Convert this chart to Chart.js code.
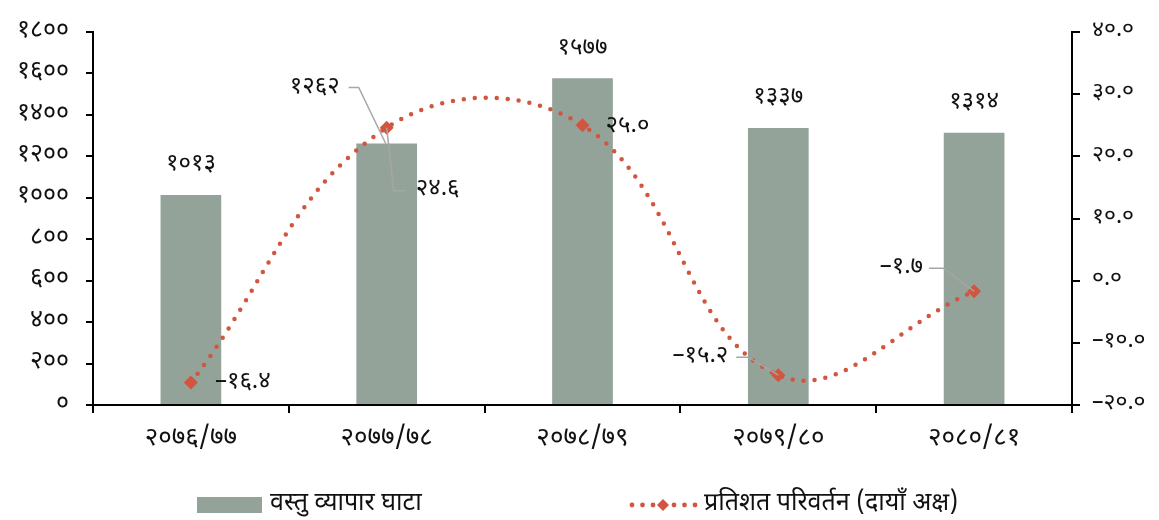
<!DOCTYPE html>
<html>
<head>
<meta charset="utf-8">
<script src="https://cdn.jsdelivr.net/npm/chart.js@4.4.1/dist/chart.umd.min.js"></script>
<style>
  html, body { margin: 0; padding: 0; background: #fff; }
  #wrap { width: 1159px; height: 520px; position: relative; }
</style>
</head>
<body>
<div id="wrap"><canvas id="c"></canvas></div>
<script>
// data
const categories = ['२०७६/७७', '२०७७/७८', '२०७८/७९', '२०७९/८०', '२०८०/८१'];
const deficit = [1013, 1262, 1577, 1337, 1314];
const pctChange = [-16.4, 24.6, 25.0, -15.2, -1.7];
const leftTicks = [0, 200, 400, 600, 800, 1000, 1200, 1400, 1600, 1800];
const rightTicks = [-20, -10, 0, 10, 20, 30, 40];
const seriesNames = ['वस्तु व्यापार घाटा', 'प्रतिशत परिवर्तन (दायाँ अक्ष)'];

const FONT = "'Noto Sans Devanagari', 'Lohit Devanagari', 'FreeSans', 'Noto Sans', sans-serif";
const BAR_COLOR = '#93A39A';
const LINE_COLOR = '#D2553F';
const LEADER = '#A6A6A6';

const devDigits = '०१२३४५६७८९';
function toDev(s) {
  return String(s).replace(/[0-9]/g, d => devDigits[+d]).replace('-', '–');
}

// label placement (pixel offsets from the mark)
const barLabelPos = [
  { dx: 0, dy: -30 },
  { dx: -72, dy: -55, leader: true },
  { dx: 0, dy: -29 },
  { dx: 0, dy: -29 },
  { dx: 0, dy: -29 }
];
const lineLabelPos = [
  { dx: 24, dy: 1, align: 'left' },
  { dx: 29, dy: 63, align: 'left', leader: [[7, 63], [19, 63]] },
  { dx: 23, dy: 2, align: 'left' },
  { dx: -50, dy: -18, align: 'right', leader: [[-30, -18], [-42, -18]] },
  { dx: -51, dy: -23, align: 'right', leader: [[-31, -23], [-45, -23]] }
];

const labelPlugin = {
  id: 'labels',
  afterDatasetsDraw(chart) {
    const ctx = chart.ctx;
    const bars = chart.getDatasetMeta(0).data;
    const pts = chart.getDatasetMeta(1).data;
    ctx.save();
    ctx.font = '24px ' + FONT;
    ctx.fillStyle = '#111';
    ctx.textBaseline = 'middle';
    ctx.strokeStyle = LEADER;
    ctx.lineWidth = 1.5;

    bars.forEach((b, i) => {
      const p = barLabelPos[i];
      const tx = b.x + p.dx, ty = b.y + p.dy;
      ctx.textAlign = 'center';
      ctx.fillText(toDev(deficit[i]), tx, ty);
      if (p.leader) {
        ctx.beginPath();
        ctx.moveTo(tx + 34, ty - 1);
        ctx.lineTo(tx + 44, ty - 1);
        ctx.lineTo(b.x - 1, b.y);
        ctx.stroke();
      }
    });

    pts.forEach((pt, i) => {
      const p = lineLabelPos[i];
      const tx = pt.x + p.dx, ty = pt.y + p.dy;
      ctx.textAlign = p.align;
      ctx.fillText(toDev(pctChange[i].toFixed(1)), tx, ty);
      if (p.leader) {
        ctx.beginPath();
        ctx.moveTo(pt.x, pt.y);
        p.leader.forEach(([lx, ly]) => ctx.lineTo(pt.x + lx, pt.y + ly));
        ctx.stroke();
      }
    });

    // legend
    const ly = 505;
    ctx.font = '25px ' + FONT;
    ctx.fillStyle = BAR_COLOR;
    ctx.fillRect(197, 497, 65, 16);
    ctx.fillStyle = '#111';
    ctx.textAlign = 'left';
    ctx.fillText(seriesNames[0], 270, ly);

    ctx.fillStyle = LINE_COLOR;
    for (let x = 632; x <= 696; x += 10.5) {
      ctx.beginPath();
      ctx.arc(x, ly, 2.4, 0, Math.PI * 2);
      ctx.fill();
    }
    ctx.beginPath();
    ctx.moveTo(663, ly - 6);
    ctx.lineTo(669, ly);
    ctx.lineTo(663, ly + 6);
    ctx.lineTo(657, ly);
    ctx.closePath();
    ctx.fill();
    ctx.fillStyle = '#111';
    ctx.fillText(seriesNames[1], 704, ly);
    ctx.restore();
  }
};

new Chart(document.getElementById('c'), {
  data: {
    labels: categories,
    datasets: [
      {
        type: 'bar',
        label: seriesNames[0],
        data: deficit,
        backgroundColor: BAR_COLOR,
        yAxisID: 'y',
        barPercentage: 0.62,
        categoryPercentage: 0.5,
        order: 2
      },
      {
        type: 'line',
        label: seriesNames[1],
        data: pctChange,
        yAxisID: 'y1',
        borderColor: LINE_COLOR,
        borderWidth: 4.5,
        borderDash: [0, 11],
        borderCapStyle: 'round',
        tension: 0.4,
        pointStyle: 'rectRot',
        pointRadius: 7,
        pointBackgroundColor: LINE_COLOR,
        pointBorderColor: LINE_COLOR,
        pointBorderWidth: 0,
        order: 1
      }
    ]
  },
  options: {
    responsive: true,
    maintainAspectRatio: false,
    animation: false,
    events: [],
    layout: { padding: { top: 28, left: 0, right: 0, bottom: 0 } },
    plugins: {
      legend: { display: false },
      tooltip: { enabled: false }
    },
    scales: {
      x: {
        offset: true,
        grid: {
          offset: true,
          drawOnChartArea: false,
          color: '#000',
          lineWidth: 2,
          tickLength: 8
        },
        border: { color: '#000', width: 2 },
        ticks: {
          color: '#111',
          padding: 12,
          font: { family: FONT, size: 26 },
          maxRotation: 0
        },
        afterFit(s) { s.height = 115; }
      },
      y: {
        position: 'left',
        min: 0,
        max: 1800,
        afterBuildTicks(s) { s.ticks = leftTicks.map(v => ({ value: v })); },
        grid: {
          drawOnChartArea: false,
          color: '#000',
          lineWidth: 2,
          tickLength: 7
        },
        border: { color: '#000', width: 2 },
        ticks: {
          color: '#111',
          padding: 17,
          font: { family: FONT, size: 25 },
          callback: v => toDev(v)
        },
        afterFit(s) { s.width = 93; }
      },
      y1: {
        position: 'right',
        min: -20,
        max: 40,
        afterBuildTicks(s) { s.ticks = rightTicks.map(v => ({ value: v })); },
        grid: {
          drawOnChartArea: false,
          color: '#000',
          lineWidth: 2,
          tickLength: 8
        },
        border: { color: '#000', width: 2 },
        ticks: {
          color: '#111',
          padding: 12,
          font: { family: FONT, size: 23 },
          callback: v => toDev(v.toFixed(1))
        },
        afterFit(s) { s.width = 87; }
      }
    }
  },
  plugins: [labelPlugin]
});
</script>
</body>
</html>
